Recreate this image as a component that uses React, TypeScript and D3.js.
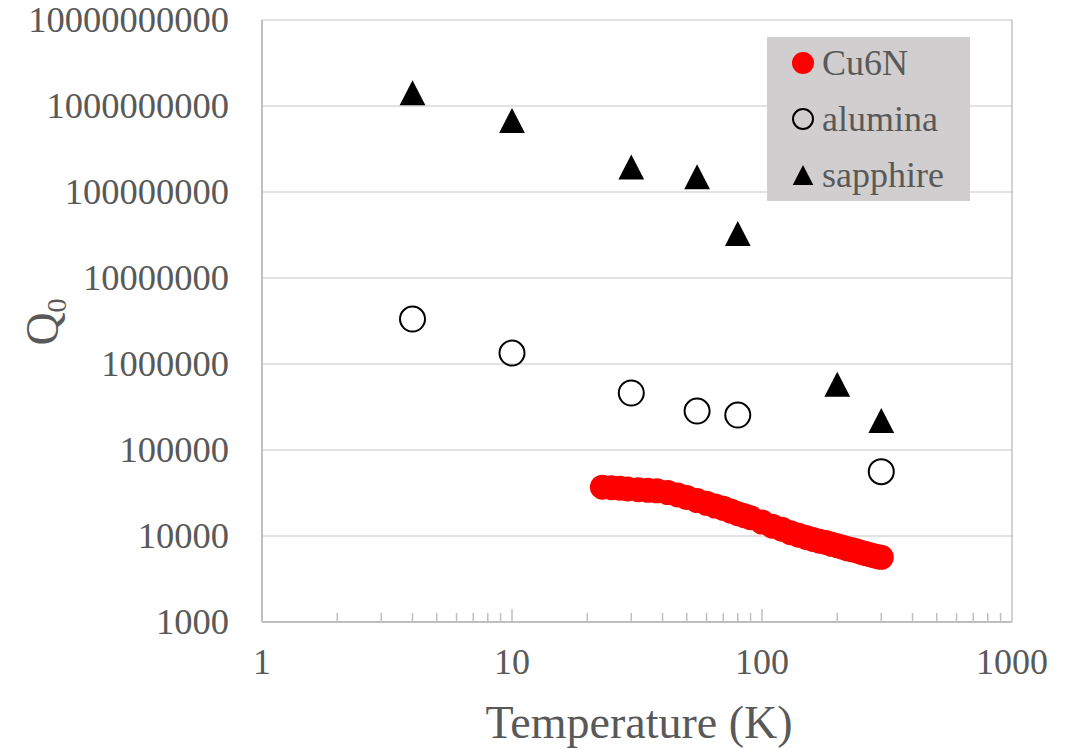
import { useEffect, useRef } from "react";
import * as d3 from "d3";

// Cu6N film, measured over temperature
const cu6nTemp = [23, 25, 27, 29, 32, 35, 38, 42, 46, 50, 55, 60, 65, 70, 75, 80, 85, 90, 100, 110, 120, 130, 140, 150, 160, 170, 180, 190, 200, 210, 220, 230, 240, 250, 260, 270, 280, 290, 300];
const cu6nQ = [37000, 36500, 36000, 35300, 34500, 34000, 33500, 32000, 30000, 28000, 25800, 24000, 22300, 21000, 19500, 18200, 17200, 16300, 14500, 13000, 12000, 10900, 10200, 9600, 9100, 8700, 8400, 8000, 7700, 7400, 7100, 6900, 6700, 6450, 6250, 6050, 5900, 5750, 5650];

// alumina
const aluminaTemp = [4, 10, 30, 55, 80, 300];
const aluminaQ = [3.33e6, 1.34e6, 4.6e5, 2.84e5, 2.55e5, 5.6e4];

// sapphire
const sapphireTemp = [4, 10, 30, 55, 80, 200, 300];
const sapphireQ = [1.43e9, 6.8e8, 1.95e8, 1.5e8, 3.3e7, 5.8e5, 2.2e5];

const xTicks = [1, 10, 100, 1000];
const yTicks = [1e3, 1e4, 1e5, 1e6, 1e7, 1e8, 1e9, 1e10];

const legendNames = ["Cu6N", "alumina", "sapphire"];

const App = () => {
  const ref = useRef(null);

  useEffect(() => {
    const width = 1074;
    const height = 749;
    const margin = { top: 20, right: 62, bottom: 127, left: 262 };
    const w = width - margin.left - margin.right;
    const h = height - margin.top - margin.bottom;
    const font = "'Liberation Serif', 'Times New Roman', serif";
    const textColor = "#595959";

    const root = d3.select(ref.current);
    root.selectAll("*").remove();

    const svg = root
      .append("svg")
      .attr("width", width)
      .attr("height", height)
      .style("position", "absolute")
      .style("left", "0px")
      .style("top", "0px")
      .style("background", "#fff");

    const g = svg.append("g").attr("transform", `translate(${margin.left},${margin.top})`);

    const x = d3.scaleLog().domain([1, 1000]).range([0, w]);
    const y = d3.scaleLog().domain([1e3, 1e10]).range([h, 0]);

    // gridlines
    g.selectAll(".grid")
      .data(yTicks.slice(1))
      .enter()
      .append("line")
      .attr("x1", 0)
      .attr("x2", w)
      .attr("y1", (d) => y(d))
      .attr("y2", (d) => y(d))
      .attr("stroke", "#d9d9d9")
      .attr("stroke-width", 1.5);

    // right edge
    g.append("line")
      .attr("x1", w)
      .attr("x2", w)
      .attr("y1", 0)
      .attr("y2", h)
      .attr("stroke", "#a6a6a6")
      .attr("stroke-width", 1);

    // minor ticks on x (inside)
    const minor = [];
    for (let dec = 1; dec < 1000; dec *= 10) {
      for (let k = 2; k <= 9; k++) minor.push(dec * k);
    }
    g.selectAll(".minor")
      .data(minor)
      .enter()
      .append("line")
      .attr("x1", (d) => x(d))
      .attr("x2", (d) => x(d))
      .attr("y1", h)
      .attr("y2", h - 9)
      .attr("stroke", "#bfbfbf")
      .attr("stroke-width", 1.5);
    g.selectAll(".major")
      .data(xTicks.slice(1, 3))
      .enter()
      .append("line")
      .attr("x1", (d) => x(d))
      .attr("x2", (d) => x(d))
      .attr("y1", h)
      .attr("y2", h - 13)
      .attr("stroke", "#bfbfbf")
      .attr("stroke-width", 1.5);

    // axis lines
    g.append("line")
      .attr("x1", 0)
      .attr("x2", 0)
      .attr("y1", 0)
      .attr("y2", h)
      .attr("stroke", "#bfbfbf")
      .attr("stroke-width", 2);
    g.append("line")
      .attr("x1", 0)
      .attr("x2", w)
      .attr("y1", h)
      .attr("y2", h)
      .attr("stroke", "#bfbfbf")
      .attr("stroke-width", 2);

    // tick labels
    g.selectAll(".xl")
      .data(xTicks)
      .enter()
      .append("text")
      .attr("x", (d) => x(d))
      .attr("y", h + 52)
      .attr("text-anchor", "middle")
      .style("font-family", font)
      .style("font-size", "36px")
      .attr("fill", textColor)
      .text((d) => String(d));

    g.selectAll(".yl")
      .data(yTicks)
      .enter()
      .append("text")
      .attr("x", -33)
      .attr("y", (d) => y(d))
      .attr("dy", "0.34em")
      .attr("text-anchor", "end")
      .style("font-family", font)
      .style("font-size", "36.5px")
      .attr("fill", textColor)
      .text((d) => String(d));

    // axis titles
    svg
      .append("text")
      .attr("x", margin.left + w / 2 + 2)
      .attr("y", 738)
      .attr("text-anchor", "middle")
      .style("font-family", font)
      .style("font-size", "46px")
      .attr("fill", textColor)
      .text("Temperature (K)");

    const qt = svg
      .append("text")
      .attr("transform", "translate(58,322) rotate(-90)")
      .attr("text-anchor", "middle")
      .style("font-family", font)
      .style("font-size", "46px")
      .attr("fill", textColor);
    qt.append("tspan").text("Q");
    qt.append("tspan").attr("font-size", "28px").attr("dy", 8).text("0");

    const tri = (s) => `M0,${-s}L${s * 1.03},${s}L${-s * 1.03},${s}Z`;

    // Cu6N
    g.selectAll(".cu")
      .data(cu6nTemp)
      .enter()
      .append("circle")
      .attr("cx", (d) => x(d))
      .attr("cy", (d, i) => y(cu6nQ[i]))
      .attr("r", 12.5)
      .attr("fill", "#ff0000");

    // alumina
    g.selectAll(".al")
      .data(aluminaTemp)
      .enter()
      .append("circle")
      .attr("cx", (d) => x(d))
      .attr("cy", (d, i) => y(aluminaQ[i]))
      .attr("r", 12.5)
      .attr("fill", "none")
      .attr("stroke", "#000")
      .attr("stroke-width", 2);

    // sapphire
    g.selectAll(".sa")
      .data(sapphireTemp)
      .enter()
      .append("path")
      .attr("transform", (d, i) => `translate(${x(d)},${y(sapphireQ[i])})`)
      .attr("d", tri(12.5))
      .attr("fill", "#000");

    // legend
    const lg = svg.append("g").attr("transform", "translate(767,37)");
    lg.append("rect").attr("width", 203).attr("height", 164).attr("fill", "#d0cece");
    legendNames.forEach((name, i) => {
      const cy = 26 + i * 56;
      if (i === 0) lg.append("circle").attr("cx", 36).attr("cy", cy).attr("r", 11).attr("fill", "#ff0000");
      if (i === 1)
        lg.append("circle").attr("cx", 36).attr("cy", cy).attr("r", 10).attr("fill", "none").attr("stroke", "#000").attr("stroke-width", 2);
      if (i === 2) lg.append("path").attr("transform", `translate(36,${cy})`).attr("d", tri(10)).attr("fill", "#000");
      lg.append("text")
        .attr("x", 55)
        .attr("y", cy)
        .attr("dy", "0.34em")
        .style("font-family", font)
        .style("font-size", "36px")
        .attr("fill", textColor)
        .text(name);
    });

    return () => {
      // eslint-disable-next-line react-hooks/exhaustive-deps
      d3.select(ref.current).selectAll("*").remove();
    };
  }, []);

  return <div ref={ref}></div>;
};

export default App;
